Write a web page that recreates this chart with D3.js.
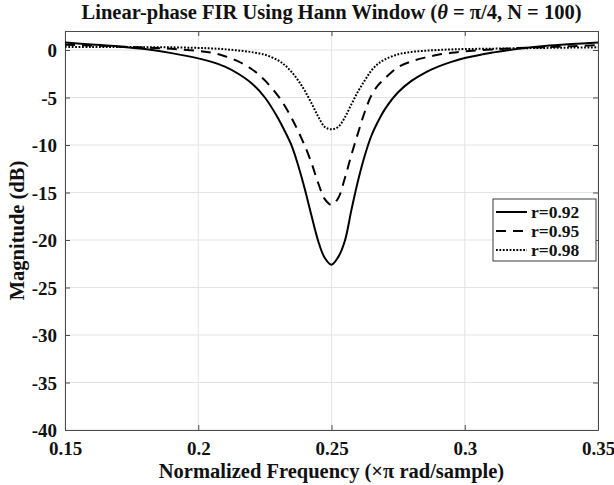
<!DOCTYPE html>
<html>
<head>
<meta charset="utf-8">
<script src="https://cdn.jsdelivr.net/npm/d3@7"></script>
<style>
  html, body { margin: 0; padding: 0; background: #fff; }
  svg { display: block; }
  text { font-family: "Liberation Serif", "Times New Roman", serif; font-weight: bold; fill: #111; }
</style>
</head>
<body>
<svg id="chart" width="614" height="485"></svg>
<script>
// Normalized frequency samples (× π rad/sample)
const freq = [0.15, 0.16, 0.17, 0.18, 0.19, 0.20, 0.205, 0.21, 0.215, 0.22, 0.225, 0.23,
  0.2325, 0.235, 0.2375, 0.24, 0.2425, 0.245, 0.2475, 0.25, 0.2525, 0.255, 0.2575, 0.26,
  0.2625, 0.265, 0.2675, 0.27, 0.275, 0.28, 0.285, 0.29, 0.295, 0.30, 0.31, 0.32, 0.33, 0.34, 0.35];

// Magnitude responses in dB, one array per pole radius
const magR092 = [0.78, 0.58, 0.38, 0.10, -0.33, -0.88, -1.25, -1.75, -2.5, -3.5, -5.0, -7.2,
  -8.55, -10.05, -12.15, -14.65, -17.45, -20.1, -21.9, -22.6, -21.8, -20.1, -16.8, -13.7,
  -11.1, -9.0, -7.5, -6.25, -4.45, -3.25, -2.4, -1.75, -1.25, -0.85, -0.28, 0.12, 0.42, 0.62, 0.78];

const magR095 = [0.55, 0.48, 0.38, 0.26, 0.12, -0.1, -0.28, -0.65, -1.2, -2.0, -3.2, -4.85,
  -5.9, -7.15, -8.55, -10.1, -11.9, -14.0, -15.7, -16.3, -15.6, -13.5, -11.0, -8.7,
  -6.5, -4.75, -3.7, -3.0, -1.8, -1.2, -0.8, -0.5, -0.3, -0.15, 0.05, 0.2, 0.3, 0.4, 0.5];

const magR098 = [0.33, 0.32, 0.31, 0.30, 0.28, 0.22, 0.17, 0.08, -0.05, -0.22, -0.5, -1.1,
  -1.6, -2.3, -3.2, -4.3, -5.6, -7.0, -8.1, -8.35, -8.1, -7.1, -5.7, -4.35,
  -3.2, -2.15, -1.45, -1.0, -0.45, -0.2, -0.08, 0.0, 0.06, 0.1, 0.14, 0.18, 0.22, 0.25, 0.28];

const seriesNames = ["r=0.92", "r=0.95", "r=0.98"];
const xTicks = [0.15, 0.2, 0.25, 0.3, 0.35];
const yTicks = [0, -5, -10, -15, -20, -25, -30, -35, -40];

const series = [
  { name: seriesNames[0], values: magR092, dash: null },
  { name: seriesNames[1], values: magR095, dash: "10,7" },
  { name: seriesNames[2], values: magR098, dash: "1.8,1.6" }
];

const svg = d3.select("#chart");
const plot = { left: 65, right: 598, top: 31, bottom: 430 };

const x = d3.scaleLinear().domain([0.15, 0.35]).range([plot.left, plot.right]);
const y = d3.scaleLinear().domain([-40, 2]).range([plot.bottom, plot.top]);

// Grid
const grid = svg.append("g").attr("class", "grid");
grid.selectAll("line.gx").data(xTicks).join("line")
  .attr("x1", d => x(d)).attr("x2", d => x(d))
  .attr("y1", plot.top).attr("y2", plot.bottom)
  .attr("stroke", "#e3e3e3").attr("stroke-width", 1);
grid.selectAll("line.gy").data(yTicks).join("line")
  .attr("x1", plot.left).attr("x2", plot.right)
  .attr("y1", d => y(d)).attr("y2", d => y(d))
  .attr("stroke", "#e3e3e3").attr("stroke-width", 1);

// Axes with inward ticks
const xAxis = svg.append("g").attr("transform", `translate(0,${plot.bottom})`)
  .call(d3.axisBottom(x).tickValues(xTicks).tickSizeInner(-5).tickSizeOuter(0).tickPadding(14).tickFormat(d => String(d)));
const xAxisTop = svg.append("g").attr("transform", `translate(0,${plot.top})`)
  .call(d3.axisTop(x).tickValues(xTicks).tickSizeInner(-5).tickSizeOuter(0).tickFormat(""));
const yAxis = svg.append("g").attr("transform", `translate(${plot.left},0)`)
  .call(d3.axisLeft(y).tickValues(yTicks).tickSizeInner(-5).tickSizeOuter(0).tickPadding(8).tickFormat(d => String(d)));
const yAxisRight = svg.append("g").attr("transform", `translate(${plot.right},0)`)
  .call(d3.axisRight(y).tickValues(yTicks).tickSizeInner(-5).tickSizeOuter(0).tickFormat(""));

[xAxis, xAxisTop, yAxis, yAxisRight].forEach(g => {
  g.select(".domain").attr("stroke", "#4a4a4a").attr("stroke-width", 1);
  g.selectAll(".tick line").attr("stroke", "#4a4a4a");
  g.selectAll(".tick text")
    .attr("font-family", "'Liberation Serif', 'Times New Roman', serif")
    .attr("font-weight", "bold").attr("font-size", 19).attr("fill", "#1a1a1a");
});
xAxis.selectAll(".tick text").attr("dy", "0.6em");
yAxis.selectAll(".tick text").attr("dy", "0.35em");

// Curves
const line = d3.line()
  .x((d, i) => x(freq[i]))
  .y(d => y(d))
  .curve(d3.curveCatmullRom.alpha(0.5));

svg.append("g").selectAll("path").data(series).join("path")
  .attr("d", d => line(d.values))
  .attr("fill", "none")
  .attr("stroke", "#000")
  .attr("stroke-width", 2)
  .attr("stroke-dasharray", d => d.dash);

// Title
const title = svg.append("text")
  .attr("x", (plot.left + plot.right) / 2).attr("y", 19)
  .attr("text-anchor", "middle").attr("font-size", 20.5);
title.append("tspan").text("Linear-phase FIR Using Hann Window (");
title.append("tspan").attr("font-style", "italic").text("θ");
title.append("tspan").text(" = π/4, N = 100)");

// Axis labels
svg.append("text")
  .attr("x", (plot.left + plot.right) / 2).attr("y", 478)
  .attr("text-anchor", "middle").attr("font-size", 20.5)
  .text("Normalized Frequency (×π rad/sample)");

svg.append("text")
  .attr("transform", `translate(24,${(plot.top + plot.bottom) / 2}) rotate(-90)`)
  .attr("text-anchor", "middle").attr("font-size", 20.5)
  .text("Magnitude (dB)");

// Legend
const leg = { x: 493, y: 199, w: 103, h: 62 };
const legend = svg.append("g");
legend.append("rect")
  .attr("x", leg.x).attr("y", leg.y).attr("width", leg.w).attr("height", leg.h)
  .attr("fill", "#fff").attr("stroke", "#3a3a3a").attr("stroke-width", 1);
const rows = legend.selectAll("g.row").data(series).join("g")
  .attr("transform", (d, i) => `translate(0,${leg.y + 13 + i * 19})`);
rows.append("line")
  .attr("x1", leg.x + 3).attr("x2", leg.x + 34)
  .attr("stroke", "#000").attr("stroke-width", 2)
  .attr("stroke-dasharray", d => d.dash);
rows.append("text")
  .attr("x", leg.x + 38).attr("dy", "0.35em")
  .attr("font-size", 17.5)
  .text(d => d.name);
</script>
</body>
</html>
